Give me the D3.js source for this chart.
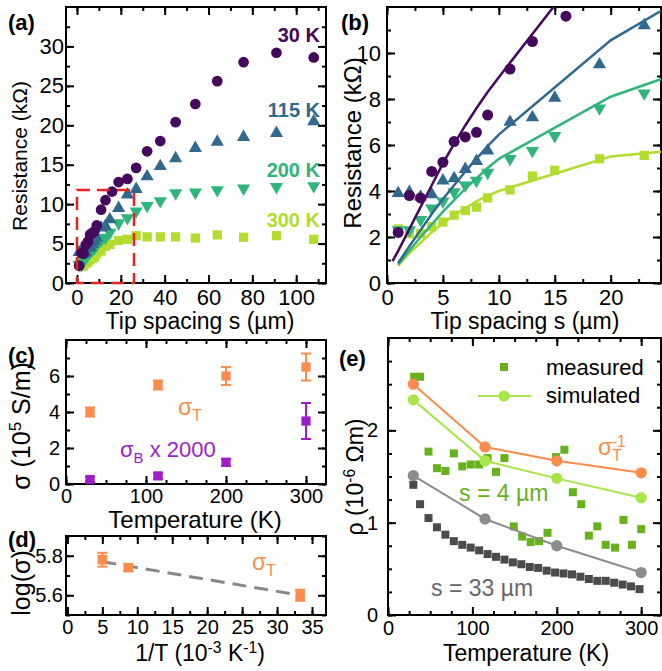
<!DOCTYPE html>
<html>
<head>
<meta charset="utf-8">
<script src="https://cdn.jsdelivr.net/npm/d3@7"></script>
<style>
  body { margin: 0; background: #fff; }
</style>
</head>
<body>
<div class="canvas"></div>
<script>
// ---- data: panel (a)/(b), measured resistance vs tip spacing
const s30 = [1,2,3,4,5,6,7,8,9,11,13,16,19,23,27,32,38,45,54,64,76,91,108];
const r30 = [2.2,3.8,3.7,4.85,5.25,6.15,6.35,6.55,7.3,9.3,10.5,11.6,12.8,13.2,14.6,16.7,18.0,20.4,22.7,25.6,28.0,29.2,28.6];
const s115 = [1,2,3,4,5,6,7,8,9,11,13,15,19,23,27,32,38,45,54,64,76,91,108];
const r115 = [3.9,3.95,3.75,3.85,4.45,4.55,4.95,5.3,5.75,7.0,7.2,8.05,9.5,11.2,11.9,13.5,14.8,15.8,17.1,17.9,18.5,19.0,20.5];
const s200 = [1,2,3,4,5,6,7,8,9,11,13,15,19,23,27,32,38,45,54,64,76,91,108];
const r200 = [2.3,2.3,2.75,3.25,3.55,3.95,4.25,4.45,4.8,5.4,5.75,6.4,7.6,8.25,9.1,9.8,10.4,11.4,11.5,11.8,12.0,12.2,12.3];
const s300 = [1,2,3,4,5,6,7,8,9,11,13,15,19,23,27,32,38,45,54,64,76,91,108];
const r300 = [2.35,2.15,2.15,2.45,2.65,2.95,3.15,3.3,3.7,4.05,4.65,4.9,5.4,5.55,6.0,5.85,5.85,5.85,5.7,6.1,5.8,6.0,5.55];

// simulated curves, panel (b)
const simS30 = [0.5,1,2,3,4,5,6,7,8,9,10,20];
const simR30 = [0.95,1.4,2.35,3.3,4.25,5.2,6.05,6.85,7.6,8.3,8.95,15.2];
const simS = [1,2,3,4,5,6,7,8,9,10,20,30];
const simR115 = [0.87,1.6,2.3,3.0,3.65,4.25,4.85,5.4,5.95,6.45,10.55,13.4];
const simR200 = [0.8,1.4,2.0,2.55,3.1,3.6,4.1,4.55,5.0,5.4,8.1,9.8];
const simR300 = [0.75,1.3,1.75,2.2,2.6,2.95,3.25,3.55,3.8,4.0,5.5,5.95];

// panel (c): conductivities
const tempC = [30,115,200,300];
const sigT = [4.0,5.5,6.0,6.5];
const sigTerr = [0.25,0.25,0.5,0.75];
const sigB = [0.25,0.45,1.2,3.5];
const sigBerr = [0.15,0.15,0.2,1.0];

// panel (d): log(sigma_T) vs 1/T
const invT = [5,8.7,33.3];
const logSig = [5.78,5.74,5.60];
const logErr = [0.035,0.018,0.028];
const fitX = [5,33.3];
const fitY = [5.77,5.6];

// panel (e): resistivity vs temperature
const tDark = [30,38,48,58,68,78,88,98,108,118,128,138,148,158,168,178,188,198,208,218,228,238,248,258,268,278,288,298];
const rhoDark = [1.41,1.20,1.05,0.95,0.87,0.80,0.76,0.73,0.70,0.66,0.63,0.60,0.57,0.55,0.52,0.51,0.48,0.46,0.45,0.44,0.415,0.39,0.37,0.37,0.35,0.33,0.31,0.28];
const tGreen = [31,38,48,58,68,78,88,98,108,118,128,138,149,159,169,179,189,199,209,219,229,238,248,258,269,279,289,300];
const rhoGreen = [2.58,2.58,1.77,1.59,1.56,1.75,1.61,1.63,1.63,1.70,1.55,1.70,0.96,0.85,0.79,0.80,0.89,1.71,1.79,1.33,1.20,0.86,0.96,0.76,0.73,1.03,0.76,0.93];
const tSim = [30,115,200,300];
const rhoSigT = [2.5,1.82,1.67,1.54];
const rhoSim4 = [2.33,1.67,1.48,1.27];
const rhoSim33 = [1.51,1.04,0.75,0.46];

// ---- settings
const font = "'Liberation Sans', Arial, sans-serif";
const c30 = "#46085c", c115 = "#31688e", c200 = "#2fb47c", c300 = "#b2dc2e";
const orange = "#fa8c4c", violet = "#9d1ec9";
const green = "#66b21d", lime = "#a6e64a", grey = "#8c8c8c", dark = "#4b4b4b";

const svg = d3.select(".canvas").append("svg")
  .attr("width", 662).attr("height", 671)
  .style("display", "block").style("background", "#fff");

function makePanel(o) {
  const x = d3.scaleLinear().domain(o.xd).range([o.l, o.r]);
  const y = d3.scaleLinear().domain(o.yd).range([o.b, o.t]);
  const g = svg.append("g");
  const id = "clip-" + o.name;
  svg.append("clipPath").attr("id", id).append("rect")
    .attr("x", o.l).attr("y", o.t).attr("width", o.r - o.l).attr("height", o.b - o.t);

  const put = (axis, tx, ty) => g.append("g")
    .attr("transform", `translate(${tx},${ty})`)
    .call(axis)
    .call(s => s.select(".domain").remove());

  put(d3.axisBottom(x).tickValues(o.xMinor).tickSize(-4).tickFormat(""), 0, o.b);
  put(d3.axisTop(x).tickValues(o.xMinor).tickSize(-4).tickFormat(""), 0, o.t);
  put(d3.axisLeft(y).tickValues(o.yMinor).tickSize(-4).tickFormat(""), o.l, 0);
  put(d3.axisRight(y).tickValues(o.yMinor).tickSize(-4).tickFormat(""), o.r, 0);
  put(d3.axisBottom(x).tickValues(o.xMajor).tickSize(-8).tickPadding(o.xPad).tickFormat(o.xFmt), 0, o.b);
  put(d3.axisTop(x).tickValues(o.xMajor).tickSize(-8).tickFormat(""), 0, o.t);
  put(d3.axisLeft(y).tickValues(o.yMajor).tickSize(-8).tickPadding(o.yPad).tickFormat(o.yFmt), o.l, 0);
  put(d3.axisRight(y).tickValues(o.yMajor).tickSize(-8).tickFormat(""), o.r, 0);

  g.selectAll(".tick line").attr("stroke", "#000").attr("stroke-width", 2);
  g.selectAll(".tick text").attr("font-size", o.fs).attr("font-family", font).attr("fill", "#000");

  g.append("rect")
    .attr("x", o.l).attr("y", o.t).attr("width", o.r - o.l).attr("height", o.b - o.t)
    .attr("fill", "none").attr("stroke", "#000").attr("stroke-width", 2);

  const plot = svg.append("g");
  return {x, y, plot, clip: `url(#${id})`};
}

// text with sub/superscripts; parts: "txt" or [txt, "sup"|"sub", dx]
function label(o) {
  const t = svg.append("text")
    .attr("transform", `translate(${o.x},${o.y})` + (o.rot ? " rotate(-90)" : ""))
    .attr("text-anchor", o.anchor || "start")
    .attr("font-family", font)
    .attr("font-size", o.size)
    .attr("font-weight", o.weight || "normal")
    .attr("fill", o.color || "#000");
  let shift = 0;
  o.parts.forEach(p => {
    const [txt, k, dx] = typeof p === "string" ? [p, "n", 0] : p;
    const target = k === "sup" ? -0.36 * o.size : k === "sub" ? 0.28 * o.size : 0;
    t.append("tspan")
      .attr("dy", target - shift)
      .attr("dx", dx || 0)
      .attr("font-size", k === "sup" || k === "sub" ? o.size * 0.68 : o.size)
      .text(txt);
    shift = target;
  });
  return t;
}

function markers(p, xs, ys, type, size, color, rot) {
  const sym = d3.symbol().type(type).size(size);
  p.plot.append("g").selectAll("path")
    .data(xs.map((d, i) => [d, ys[i]]))
    .enter().append("path")
    .attr("d", sym)
    .attr("transform", d => `translate(${p.x(d[0])},${p.y(d[1])})` + (rot ? " rotate(180)" : ""))
    .attr("fill", color);
}

function line(p, xs, ys, color, width, dash) {
  const gen = d3.line().x(d => p.x(d[0])).y(d => p.y(d[1]));
  p.plot.append("path")
    .attr("d", gen(xs.map((d, i) => [d, ys[i]])))
    .attr("fill", "none").attr("stroke", color).attr("stroke-width", width)
    .attr("stroke-dasharray", dash || null)
    .attr("clip-path", p.clip);
}

function errorbars(p, xs, ys, es, color) {
  const g = p.plot.append("g").attr("stroke", color).attr("stroke-width", 2);
  xs.forEach((d, i) => {
    const cx = p.x(d), y0 = p.y(ys[i] - es[i]), y1 = p.y(ys[i] + es[i]);
    g.append("line").attr("x1", cx).attr("x2", cx).attr("y1", y0).attr("y2", y1);
    g.append("line").attr("x1", cx - 5).attr("x2", cx + 5).attr("y1", y0).attr("y2", y0);
    g.append("line").attr("x1", cx - 5).attr("x2", cx + 5).attr("y1", y1).attr("y2", y1);
  });
}

// ---- panel (a)
const pa = makePanel({
  name: "a", l: 66, r: 326, t: 7, b: 283, xd: [-5, 113.6], yd: [0, 35],
  xMajor: d3.range(0, 101, 20), xMinor: d3.range(0, 111, 10),
  yMajor: d3.range(0, 31, 5), yMinor: d3.range(0, 35, 2.5),
  xFmt: d3.format("d"), yFmt: d3.format("d"), xPad: 6, yPad: 2, fs: 22
});
markers(pa, s300, r300, d3.symbolSquare, 85, c300);
markers(pa, s200, r200, d3.symbolTriangle, 75, c200, true);
markers(pa, s115, r115, d3.symbolTriangle, 75, c115);
markers(pa, s30, r30, d3.symbolCircle, 90, c30);
pa.plot.append("rect")
  .attr("x", pa.x(0)).attr("y", pa.y(11.8))
  .attr("width", pa.x(26) - pa.x(0)).attr("height", pa.y(0) - pa.y(11.8))
  .attr("fill", "none").attr("stroke", "#e8231f").attr("stroke-width", 2.5)
  .attr("stroke-dasharray", "13,7");
label({x: 320, y: 42, parts: ["30 K"], size: 20, weight: "bold", color: c30, anchor: "end"});
label({x: 320, y: 117, parts: ["115 K"], size: 20, weight: "bold", color: c115, anchor: "end"});
label({x: 320, y: 177, parts: ["200 K"], size: 20, weight: "bold", color: c200, anchor: "end"});
label({x: 320, y: 227, parts: ["300 K"], size: 20, weight: "bold", color: c300, anchor: "end"});
label({x: 27, y: 156, parts: ["Resistance (kΩ)"], size: 21, rot: true, anchor: "middle"});
label({x: 200, y: 329, parts: ["Tip spacing s (µm)"], size: 23, anchor: "middle"});
label({x: 8, y: 30, parts: ["(a)"], size: 22, weight: "bold"});

// ---- panel (b)
const pb = makePanel({
  name: "b", l: 387, r: 661, t: 7, b: 283, xd: [0, 24.5], yd: [0, 12],
  xMajor: d3.range(0, 21, 5), xMinor: d3.range(0, 24, 2.5),
  yMajor: d3.range(0, 11, 2), yMinor: d3.range(0, 12, 1),
  xFmt: d3.format("d"), yFmt: d3.format("d"), xPad: 6, yPad: 6, fs: 22
});
markers(pb, s300, r300, d3.symbolSquare, 85, c300);
markers(pb, s200, r200, d3.symbolTriangle, 75, c200, true);
markers(pb, s115, r115, d3.symbolTriangle, 75, c115);
markers(pb, s30, r30, d3.symbolCircle, 95, c30);
line(pb, simS, simR300, c300, 2.5);
line(pb, simS, simR200, c200, 2.5);
line(pb, simS, simR115, c115, 2.5);
line(pb, simS30, simR30, c30, 2.5);
label({x: 361, y: 143, parts: ["Resistance (kΩ)"], size: 24, rot: true, anchor: "middle"});
label({x: 525, y: 329, parts: ["Tip spacing s (µm)"], size: 23, anchor: "middle"});
label({x: 341, y: 30, parts: ["(b)"], size: 22, weight: "bold"});

// ---- panel (c)
const pc = makePanel({
  name: "c", l: 66, r: 326, t: 340, b: 484, xd: [0, 325], yd: [0, 8],
  xMajor: d3.range(0, 301, 100), xMinor: d3.range(0, 325, 25),
  yMajor: d3.range(0, 7, 2), yMinor: d3.range(0, 8, 1),
  xFmt: d3.format("d"), yFmt: d3.format("d"), xPad: 5, yPad: 6, fs: 20
});
errorbars(pc, tempC, sigT, sigTerr, orange);
markers(pc, tempC, sigT, d3.symbolSquare, 85, orange);
errorbars(pc, tempC, sigB, sigBerr, violet);
markers(pc, tempC, sigB, d3.symbolSquare, 85, violet);
label({x: 178, y: 415, parts: ["σ", ["T", "sub"]], size: 23, color: orange});
label({x: 120, y: 457, parts: ["σ", ["B", "sub"], [" x 2000", "n"]], size: 22, color: violet});
label({x: 30, y: 426, parts: ["σ (10", ["5", "sup"], [" S/m)", "n"]], size: 25, rot: true, anchor: "middle"});
label({x: 195, y: 528, parts: ["Temperature (K)"], size: 24, anchor: "middle"});
label({x: 8, y: 363, parts: ["(c)"], size: 22, weight: "bold"});

// ---- panel (d)
const pd = makePanel({
  name: "d", l: 66, r: 326, t: 536, b: 615, xd: [-0.2, 37], yd: [5.5, 5.9],
  xMajor: d3.range(0, 36, 5), xMinor: d3.range(0, 37, 2.5),
  yMajor: [5.6, 5.8], yMinor: [5.5, 5.6, 5.7, 5.8, 5.9],
  xFmt: d3.format("d"), yFmt: d3.format(".1f"), xPad: 5, yPad: 3, fs: 20
});
line(pd, fitX, fitY, "#888", 3, "14,8");
errorbars(pd, invT, logSig, logErr, orange);
markers(pd, invT, logSig, d3.symbolSquare, 90, orange);
label({x: 252, y: 570, parts: ["σ", ["T", "sub"]], size: 23, color: orange});
label({x: 30, y: 583, parts: ["log(σ)"], size: 25, rot: true, anchor: "middle"});
label({x: 200, y: 661, parts: ["1/T (10", ["-3", "sup"], [" K", "n"], ["-1", "sup"], [")", "n"]], size: 23, anchor: "middle"});
label({x: 8, y: 547, parts: ["(d)"], size: 22, weight: "bold"});

// ---- panel (e)
const pe = makePanel({
  name: "e", l: 388, r: 661, t: 338, b: 615, xd: [0, 323.5], yd: [0, 3],
  xMajor: d3.range(0, 301, 100), xMinor: d3.range(0, 325, 25),
  yMajor: [0, 1, 2], yMinor: d3.range(0, 3, 0.25),
  xFmt: d3.format("d"), yFmt: d3.format("d"), xPad: 6, yPad: 10, fs: 20
});
markers(pe, tDark, rhoDark, d3.symbolSquare, 64, dark);
markers(pe, tGreen, rhoGreen, d3.symbolSquare, 64, green);
line(pe, tSim, rhoSigT, orange, 2);
markers(pe, tSim, rhoSigT, d3.symbolCircle, 100, orange);
line(pe, tSim, rhoSim4, lime, 2);
markers(pe, tSim, rhoSim4, d3.symbolCircle, 100, lime);
line(pe, tSim, rhoSim33, grey, 2);
markers(pe, tSim, rhoSim33, d3.symbolCircle, 100, grey);

// legend
const leg = svg.append("g");
leg.append("rect").attr("x", 500).attr("y", 363).attr("width", 8).attr("height", 8).attr("fill", green);
leg.append("line").attr("x1", 478).attr("x2", 531).attr("y1", 396).attr("y2", 396)
  .attr("stroke", lime).attr("stroke-width", 2);
leg.append("circle").attr("cx", 504).attr("cy", 396).attr("r", 5.6).attr("fill", lime);
label({x: 546, y: 375, parts: ["measured"], size: 22});
label({x: 546, y: 403, parts: ["simulated"], size: 22});

label({x: 598, y: 455, parts: ["σ", ["T", "sub"], ["-1", "sup", -9]], size: 23, color: orange});
label({x: 459, y: 501, parts: ["s = 4 µm"], size: 23, color: green});
label({x: 431, y: 596, parts: ["s = 33 µm"], size: 23, color: "#666"});
label({x: 363, y: 477, parts: ["ρ (10", ["-6", "sup"], [" Ωm)", "n"]], size: 23, rot: true, anchor: "middle"});
label({x: 526, y: 661, parts: ["Temperature (K)"], size: 23, anchor: "middle"});
label({x: 339, y: 366, parts: ["(e)"], size: 22, weight: "bold"});
</script>
</body>
</html>
